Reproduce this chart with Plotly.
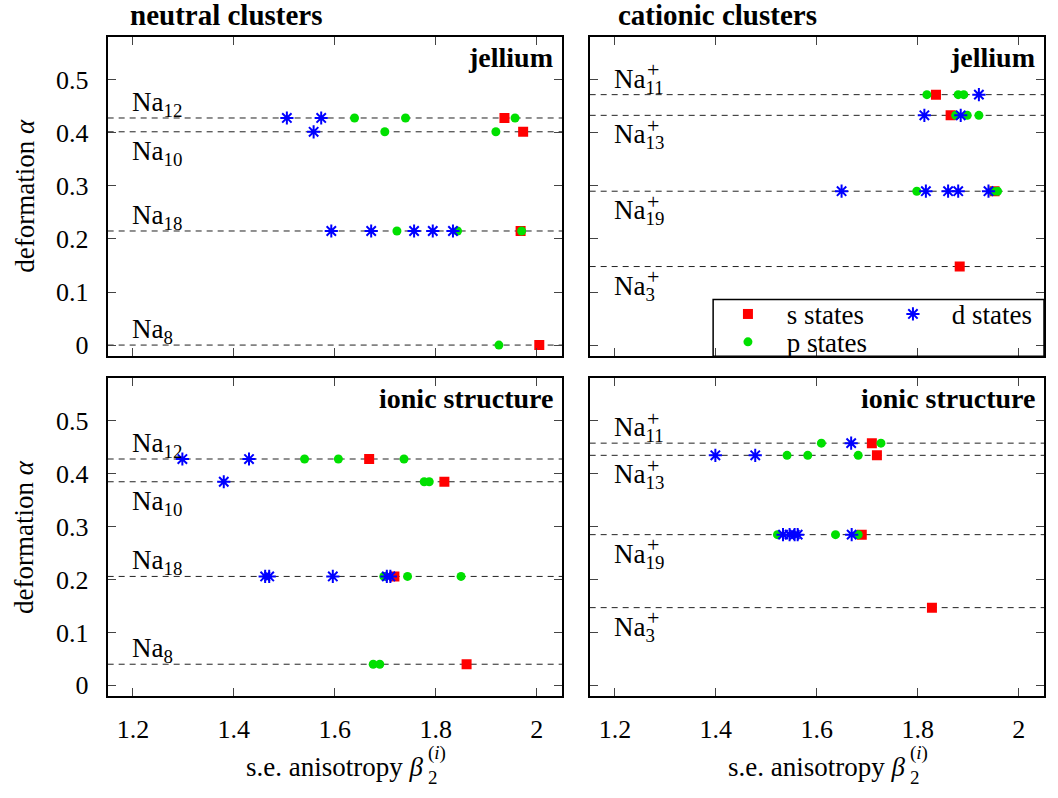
import plotly.graph_objects as go

FONT = "Liberation Serif"
RED, GREEN, BLUE = "#ff0000", "#00e000", "#0000ff"

# ── data: s.e. anisotropy beta_2 of each occupied level, per cluster ──────────
# jellium, neutral clusters
JN_NAMES = ["12", "10", "18", "8"]
JN_ALPHA = [0.428, 0.402, 0.215, 0.0]
JN_S = [[1.936], [1.973], [1.968], [2.005]]
JN_P = [[1.639, 1.740, 1.957], [1.699, 1.919], [1.723, 1.843, 1.970], [1.925]]
JN_D = [[1.505, 1.573], [1.558], [1.593, 1.672, 1.757, 1.794, 1.834], []]

# jellium, cationic clusters
JC_NAMES = ["11", "13", "19", "3"]
JC_ALPHA = [0.472, 0.433, 0.290, 0.148]
JC_S = [[1.836], [1.865], [1.952], [1.883]]
JC_P = [[1.818, 1.880, 1.891], [1.875, 1.898, 1.921], [1.798, 1.948, 1.958], []]
JC_D = [[1.921], [1.813, 1.885], [1.649, 1.816, 1.860, 1.880, 1.940], []]

# ionic structure, neutral clusters
IN_NAMES = ["12", "10", "18", "8"]
IN_ALPHA = [0.428, 0.385, 0.206, 0.040]
IN_S = [[1.668], [1.817], [1.718], [1.861]]
IN_P = [[1.540, 1.607, 1.737], [1.777, 1.787], [1.697, 1.744, 1.850], [1.676, 1.689]]
IN_D = [[1.298, 1.430], [1.380], [1.462, 1.470, 1.596, 1.703, 1.710], []]

# ionic structure, cationic clusters
IC_NAMES = ["11", "13", "19", "3"]
IC_ALPHA = [0.458, 0.435, 0.285, 0.147]
IC_S = [[1.709], [1.719], [1.689], [1.828]]
IC_P = [[1.609, 1.727], [1.541, 1.582, 1.682], [1.522, 1.637, 1.682], []]
IC_D = [[1.668], [1.399, 1.478], [1.533, 1.546, 1.556, 1.562, 1.669], []]

X_RANGE = [1.15, 2.05]
Y_RANGE = [-0.021, 0.581]

# label placement relative to the dashed line (style, not data)
SIDE_NEUTRAL = ["above", "below", "above", "above"]
SIDE_CATION = ["above", "below", "below", "below"]

# ── panel geometry (px in a 1058x798 page) ────────────────────────────────────
W, H = 1058, 798
XD_L = [109 / W, 569 / W]
XD_R = [597 / W, 1057 / W]
YD_T = [1 - 358 / H, 1 - 37 / H]
YD_B = [1 - 700 / H, 1 - 380 / H]

panels = [
    # n, xdomain, ydomain, names, alpha, s, p, d, cationic, tag
    (1, XD_L, YD_T, JN_NAMES, JN_ALPHA, JN_S, JN_P, JN_D, False, "jellium"),
    (2, XD_R, YD_T, JC_NAMES, JC_ALPHA, JC_S, JC_P, JC_D, True, "jellium"),
    (3, XD_L, YD_B, IN_NAMES, IN_ALPHA, IN_S, IN_P, IN_D, False, "ionic structure"),
    (4, XD_R, YD_B, IC_NAMES, IC_ALPHA, IC_S, IC_P, IC_D, True, "ionic structure"),
]

STATES = [
    ("\u2002\u2009s states", dict(symbol="square", size=10, color=RED), "legend"),
    ("\u2002\u2009p states", dict(symbol="circle", size=9, color=GREEN), "legend2"),
    ("\u2002\u2009d states", dict(symbol="asterisk-open", size=11, color=BLUE,
                                  line=dict(color=BLUE, width=2)), "legend"),
]


def flatten(alpha, betas):
    xs, ys = [], []
    for a, row in zip(alpha, betas):
        for b in row:
            xs.append(b)
            ys.append(a)
    return xs, ys


fig = go.Figure()
shapes, annotations = [], []
layout = {}

for n, xd, yd, names, alpha, s, p, d, cation, tag in panels:
    sfx = "" if n == 1 else str(n)
    xa, ya = "x" + sfx, "y" + sfx

    for (label, marker, leg), betas in zip(STATES, [s, p, d]):
        xs, ys = flatten(alpha, betas)
        fig.add_trace(go.Scatter(
            x=xs, y=ys, mode="markers", name=label, marker=marker,
            xaxis=xa, yaxis=ya, legend=leg, legendgroup=label,
            showlegend=(n == 2), hoverinfo="skip",
        ))

    # dashed deformation lines + cluster labels
    sides = SIDE_CATION if cation else SIDE_NEUTRAL
    for name, a, side in zip(names, alpha, sides):
        shapes.append(dict(
            type="line", xref=xa + " domain", x0=0, x1=1, yref=ya, y0=a, y1=a,
            line=dict(color="#222222", width=1, dash="6px,5px"), layer="below",
        ))
        ys_ = 14 if side == "above" else -21
        annotations.append(dict(
            text=f"Na<sub>{name}</sub>", xref=xa + " domain", x=0.05,
            yref=ya, y=a, xanchor="left", yanchor="middle", yshift=ys_,
            showarrow=False, font=dict(family=FONT, size=27, color="black"),
        ))
        if cation:
            annotations.append(dict(
                text="+", xref=xa + " domain", x=0.05, xshift=33,
                yref=ya, y=a, xanchor="left", yanchor="middle",
                yshift=ys_ + 11, showarrow=False,
                font=dict(family=FONT, size=22, color="black"),
            ))

    annotations.append(dict(
        text=f"<b>{tag}</b>", xref=xa + " domain", x=0.985, yref=ya + " domain",
        y=0.935, xanchor="right", yanchor="middle", showarrow=False,
        font=dict(family=FONT, size=28, color="black"),
    ))

    bottom = yd is YD_B
    left = xd is XD_L
    axis_common = dict(
        showline=True, mirror="allticks", ticks="inside", ticklen=8,
        tickwidth=1.3, linecolor="black", linewidth=2, showgrid=False,
        zeroline=False, tickfont=dict(family=FONT, size=26, color="black"),
    )
    layout["xaxis" + sfx] = dict(
        axis_common, domain=xd, range=X_RANGE, tick0=1.2, dtick=0.2,
        anchor=ya, showticklabels=bottom, ticklabelstandoff=8,
    )
    layout["yaxis" + sfx] = dict(
        axis_common, domain=yd, range=Y_RANGE, tick0=0, dtick=0.1,
        anchor=xa, showticklabels=left, ticklabelstandoff=12,
    )

# ── titles ───────────────────────────────────────────────────────────────────
for txt, x in [("neutral clusters", 130), ("cationic clusters", 624)]:
    annotations.append(dict(
        text=f"<b>{txt}</b>", xref="paper", yref="paper", x=x / W, y=1 - 15 / H,
        xanchor="left", yanchor="middle", showarrow=False,
        font=dict(family=FONT, size=29, color="black"),
    ))

for yc in [197, 540]:
    annotations.append(dict(
        text="deformation <i>α</i>", xref="paper", yref="paper", x=25 / W,
        y=1 - yc / H, textangle=-90, xanchor="center", yanchor="middle",
        showarrow=False, font=dict(family=FONT, size=27, color="black"),
    ))

for xe in [430, 918]:
    annotations.append(dict(
        text="s.e. anisotropy <i>β</i>", xref="paper", yref="paper", x=xe / W,
        y=1 - 771 / H, xanchor="right", yanchor="middle", showarrow=False,
        font=dict(family=FONT, size=27, color="black"),
    ))
    annotations.append(dict(
        text="(<i>i</i>)", xref="paper", yref="paper", x=(xe + 1) / W,
        y=1 - 757 / H, xanchor="left", yanchor="middle", showarrow=False,
        font=dict(family=FONT, size=19, color="black"),
    ))
    annotations.append(dict(
        text="2", xref="paper", yref="paper", x=(xe + 1) / W,
        y=1 - 781 / H, xanchor="left", yanchor="middle", showarrow=False,
        font=dict(family=FONT, size=19, color="black"),
    ))

# legend frame
shapes.append(dict(
    type="rect", xref="paper", yref="paper", x0=722 / W, x1=1057 / W,
    y0=1 - 358 / H, y1=1 - 301 / H, line=dict(color="black", width=1.5),
    fillcolor="rgba(0,0,0,0)",
))

leg_common = dict(
    orientation="h", xanchor="left", yanchor="middle", entrywidth=120,
    bgcolor="rgba(0,0,0,0)", borderwidth=0,
    font=dict(family=FONT, size=27, color="black"),
)

fig.update_layout(
    **layout,
    width=W, height=H,
    margin=dict(l=0, r=0, t=0, b=0),
    paper_bgcolor="white", plot_bgcolor="white",
    shapes=shapes, annotations=annotations,
    legend=dict(leg_common, x=737 / W, y=1 - 316 / H),
    legend2=dict(leg_common, x=737 / W, y=1 - 344 / H),
    hovermode=False,
)

# pin the plot to the page corner so nothing adds scroll size
pin = (
    "document.body.style.margin='0px';"
    "document.documentElement.style.overflow='hidden';"
    "var d=document.getElementById('{plot_id}');"
    "d.style.position='fixed';d.style.left='0px';d.style.top='0px';"
)

fig.write_html(
    "out.html",
    config={"displayModeBar": False, "responsive": False},
    post_script=pin,
)
